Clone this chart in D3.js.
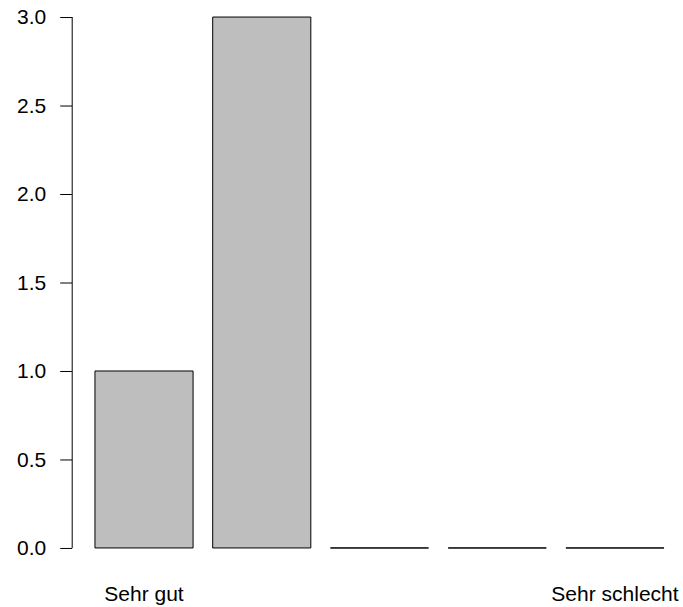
<!DOCTYPE html>
<html>
<head>
<meta charset="utf-8">
<script src="https://cdn.jsdelivr.net/npm/d3@7"></script>
<style>
  body { margin: 0; background: #fff; }
  svg { display: block; font-family: "Liberation Sans", Arial, sans-serif; }
</style>
</head>
<body>
<div id="chart"></div>
<script>
// data
const categories = ['Sehr gut', 'Gut', 'Mittel', 'Schlecht', 'Sehr schlecht']
const labels = ['Sehr gut', '', '', '', 'Sehr schlecht']
const counts = [1, 3, 0, 0, 0]
const yTicks = [0, 0.5, 1, 1.5, 2, 2.5, 3]

const width = 683
const height = 607
// plot region (R style usr extended 4%)
const plot = { left: 72.2, right: 686.8, top: -4.2, bottom: 569.2 }

const svg = d3.select('#chart').append('svg')
  .attr('width', width)
  .attr('height', height)

// bar width 1, space 0.2 like barplot
const barW = 1
const space = 0.2
const xMax = categories.length * (barW + space)
const xPad = (xMax - space) * 0.04
const xScale = d3.scaleLinear()
  .domain([space - xPad, xMax + xPad])
  .range([plot.left, plot.right])

const yMax = d3.max(counts)
const yScale = d3.scaleLinear()
  .domain([-yMax * 0.04, yMax * 1.04])
  .range([plot.bottom, plot.top])

// bars as closed paths so zero bars still show a line
svg.append('g').attr('class', 'bars')
  .selectAll('path')
  .data(counts)
  .enter().append('path')
  .attr('d', (d, i) => {
    const x0 = xScale(space + i * (barW + space))
    const x1 = xScale(space + i * (barW + space) + barW)
    const y0 = yScale(0)
    const y1 = yScale(d)
    return `M${x0},${y0}H${x1}V${y1}H${x0}Z`
  })
  .attr('fill', '#bebebe')
  .attr('stroke', '#000')
  .attr('stroke-width', 1)

// y axis
const yAxis = d3.axisLeft(yScale)
  .tickValues(yTicks)
  .tickFormat(d3.format('.1f'))
  .tickSize(12)
  .tickPadding(14)
const yAxisG = svg.append('g')
  .attr('class', 'y-axis')
  .attr('transform', `translate(${plot.left},0)`)
  .call(yAxis)
yAxisG.attr('font-size', 21).attr('font-family', null)
yAxisG.select('.domain')
  .attr('d', `M0,${yScale(0)}V${yScale(yMax)}`)
yAxisG.selectAll('text')
  .attr('fill', '#000')

// x labels
svg.append('g').attr('class', 'x-labels')
  .selectAll('text')
  .data(labels)
  .enter().append('text')
  .attr('x', (d, i) => xScale(space + i * (barW + space) + barW / 2))
  .attr('y', 601)
  .attr('text-anchor', 'middle')
  .attr('font-size', 21)
  .text(d => d)
</script>
</body>
</html>
